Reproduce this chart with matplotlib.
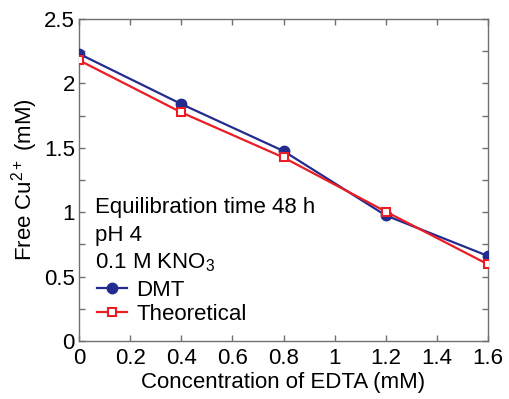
import matplotlib
matplotlib.use('Agg')
import matplotlib.pyplot as plt
from matplotlib.ticker import MultipleLocator

plt.rcParams['font.family'] = ['Liberation Sans', 'DejaVu Sans']
plt.rcParams['mathtext.fontset'] = 'custom'
plt.rcParams['mathtext.rm'] = 'Liberation Sans'
plt.rcParams['mathtext.it'] = 'Liberation Sans'

# data
edta = [0.0, 0.4, 0.8, 1.2, 1.6]
dmt = [2.23, 1.84, 1.475, 0.975, 0.66]
theoretical = [2.18, 1.775, 1.425, 1.005, 0.595]

fs = 16

fig = plt.figure(figsize=(5.09, 3.99), dpi=100)
ax = fig.add_axes([79/509, 1 - 341/399, (488-79)/509, (341-19)/399])

ax.plot(edta, dmt, '-o', color='#232b8e', lw=1.6, ms=7.5, label='DMT', zorder=3)
ax.plot(edta, theoretical, '-s', color='#ea1c24', lw=1.6, ms=6,
        mfc='white', mew=1.5, label='Theoretical', zorder=4)

ax.set_xlim(0, 1.6)
ax.set_ylim(0, 2.5)
ax.set_xticks([0, 0.2, 0.4, 0.6, 0.8, 1, 1.2, 1.4, 1.6])
ax.set_xticklabels(['0', '0.2', '0.4', '0.6', '0.8', '1', '1.2', '1.4', '1.6'])
ax.set_yticks([0, 0.5, 1, 1.5, 2, 2.5])
ax.set_yticklabels(['0', '0.5', '1', '1.5', '2', '2.5'])
ax.yaxis.set_minor_locator(MultipleLocator(0.25))

for s in ax.spines.values():
    s.set_color('#707070')
    s.set_linewidth(1.0)
ax.tick_params(which='both', direction='in', top=True, right=True,
               length=4, width=1.0, color='#707070', labelsize=fs)
ax.tick_params(axis='x', pad=5)
ax.tick_params(axis='y', pad=3)

ax.set_xlabel('Concentration of EDTA (mM)', fontsize=fs, labelpad=2)
ax.set_ylabel('Free Cu$^{2+}$ (mM)', fontsize=fs, labelpad=3)

# annotation lines
ax.text(0.039, 0.398, 'Equilibration time 48 h', transform=ax.transAxes,
        fontsize=fs, va='baseline', ha='left')
ax.text(0.039, 0.311, 'pH 4', transform=ax.transAxes,
        fontsize=fs, va='baseline', ha='left')
ax.text(0.039, 0.227, '0.1 M KNO$_3$', transform=ax.transAxes,
        fontsize=fs, va='baseline', ha='left')

ax.legend(loc='lower left', bbox_to_anchor=(0.045, 0.05), frameon=False,
          fontsize=fs, handlelength=1.35, handletextpad=0.4,
          borderpad=0, borderaxespad=0, labelspacing=0.15)

fig.savefig('out.png', dpi=100)
